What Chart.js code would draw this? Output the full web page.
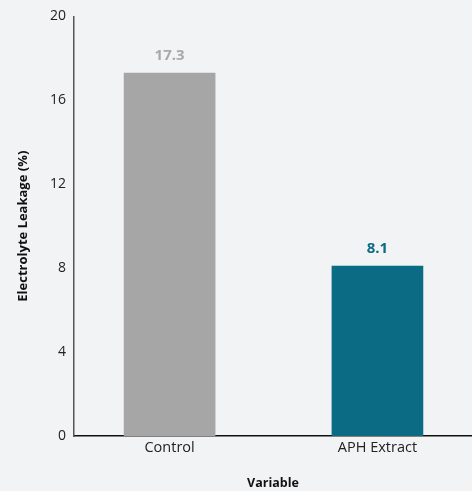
<!DOCTYPE html>
<html><head><meta charset="utf-8">
<script src="https://cdn.jsdelivr.net/npm/chart.js@4"></script>
<style>html,body{margin:0;padding:0;background:#f2f3f5;}#wrap{width:472px;height:491px;}</style>
</head><body><div id="wrap"><canvas id="c" width="472" height="491"></canvas></div>
<script>
const categories = ["Control", "APH Extract"];
const values = [17.3, 8.1];
const barColors = ["#a5a6a5", "#0b6a84"];
const labelColors = ["#a8a9a8", "#0b6a84"];
const yTicks = [0, 4, 8, 12, 16, 20];

const FONT = "'Open Sans', 'Noto Sans', sans-serif";

const valueLabels = {
  id: 'valueLabels',
  afterDatasetsDraw(chart) {
    const ctx = chart.ctx;
    const meta = chart.getDatasetMeta(0);
    ctx.save();
    ctx.font = "bold 15px " + FONT;
    ctx.textAlign = 'center';
    ctx.textBaseline = 'middle';
    meta.data.forEach((bar, i) => {
      ctx.fillStyle = labelColors[i];
      ctx.fillText(values[i].toFixed(1), bar.x, bar.y - 17);
    });
    ctx.restore();
  }
};

new Chart(document.getElementById('c'), {
  type: 'bar',
  data: {
    datasets: [{
      data: values.map((v, i) => ({x: i, y: v})),
      backgroundColor: barColors,
      barThickness: 91,
      borderWidth: 0
    }]
  },
  options: {
    responsive: false,
    animation: false,
    layout: {padding: {top: 14, right: 0, left: 0, bottom: 0}},
    plugins: {legend: {display: false}, tooltip: {enabled: false}},
    scales: {
      x: {
        type: 'linear',
        offset: false,
        min: -0.46,
        max: 1.455,
        afterBuildTicks(scale) { scale.ticks = categories.map((c, i) => ({value: i})); },
        afterFit(scale) { scale.height = 491 - 14 - 422; },
        ticks: {
          callback: (v) => categories[v],
          color: '#222',
          font: {family: FONT, size: 14.5},
          padding: 3,
          maxRotation: 0,
          autoSkip: false
        },
        grid: {display: false, drawTicks: false},
        border: {display: true, color: '#111', width: 1.5},
        title: {display: true, text: 'Variable', color: '#111', font: {family: FONT, size: 12.5, weight: 'bold'}, padding: {top: 15, bottom: 0}}
      },
      y: {
        min: 0,
        max: 20,
        afterBuildTicks(scale) { scale.ticks = yTicks.map(v => ({value: v})); },
        afterFit(scale) { scale.width = 74; },
        ticks: {
          color: '#222',
          font: {family: FONT, size: 14},
          padding: 8
        },
        grid: {display: false, drawTicks: false},
        border: {display: true, color: '#555', width: 1.5},
        title: {display: true, text: 'Electrolyte Leakage (%)', color: '#111', font: {family: FONT, size: 13, weight: 'bold'}, padding: {top: 15, bottom: 0}}
      }
    }
  },
  plugins: [valueLabels]
});
</script>
</body></html>
